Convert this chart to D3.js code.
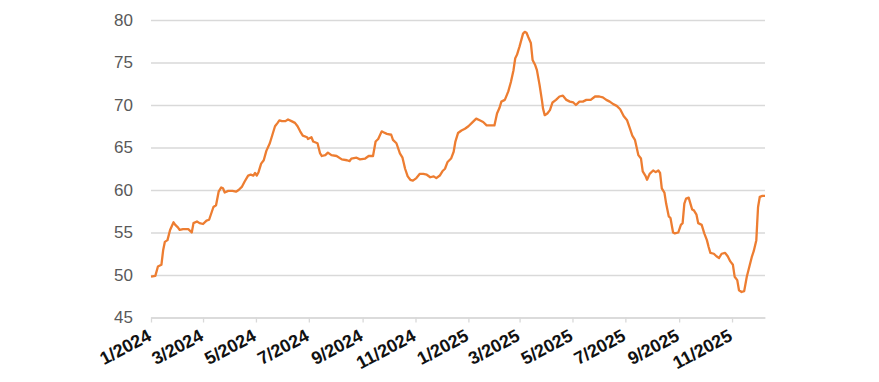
<!DOCTYPE html>
<html>
<head>
<meta charset="utf-8">
<script src="https://cdn.jsdelivr.net/npm/d3@7"></script>
<style>
  body { margin: 0; background: #fff; }
</style>
</head>
<body>
<div id="chart"></div>
<script>
const dates = [
  "2024-01-01","2024-01-06","2024-01-09","2024-01-13","2024-01-15","2024-01-17","2024-01-20","2024-01-23","2024-01-27","2024-01-29",
  "2024-02-01","2024-02-03","2024-02-07","2024-02-13","2024-02-17","2024-02-19","2024-02-23","2024-02-26",
  "2024-03-01","2024-03-05","2024-03-08","2024-03-13","2024-03-16","2024-03-19","2024-03-22","2024-03-24","2024-03-26","2024-03-30",
  "2024-04-04","2024-04-08","2024-04-11","2024-04-15","2024-04-18","2024-04-22","2024-04-25","2024-04-28","2024-04-30",
  "2024-05-02","2024-05-04","2024-05-07","2024-05-10","2024-05-13","2024-05-17","2024-05-20","2024-05-23","2024-05-26","2024-05-28","2024-05-31",
  "2024-06-04","2024-06-07","2024-06-11","2024-06-15","2024-06-18","2024-06-21","2024-06-24","2024-06-29","2024-06-30",
  "2024-07-04","2024-07-06","2024-07-11","2024-07-14","2024-07-16","2024-07-20","2024-07-23","2024-07-27",
  "2024-08-02","2024-08-08","2024-08-14","2024-08-17","2024-08-19","2024-08-25","2024-08-29",
  "2024-09-04","2024-09-08","2024-09-13","2024-09-16","2024-09-19","2024-09-23","2024-09-25","2024-09-29",
  "2024-10-04","2024-10-06","2024-10-10","2024-10-14","2024-10-17","2024-10-20","2024-10-23","2024-10-26","2024-10-29",
  "2024-11-02","2024-11-06","2024-11-10","2024-11-14","2024-11-18","2024-11-22","2024-11-25","2024-11-29",
  "2024-12-02","2024-12-05","2024-12-08","2024-12-12","2024-12-15","2024-12-17","2024-12-20","2024-12-24","2024-12-28",
  "2025-01-01","2025-01-05","2025-01-10","2025-01-14","2025-01-18","2025-01-22","2025-01-28","2025-01-31",
  "2025-02-03","2025-02-06","2025-02-08","2025-02-12","2025-02-16","2025-02-19","2025-02-22","2025-02-24","2025-02-26",
  "2025-03-01","2025-03-05","2025-03-07","2025-03-09","2025-03-11","2025-03-14","2025-03-16","2025-03-19","2025-03-21","2025-03-24","2025-03-27","2025-03-28","2025-03-30",
  "2025-04-02","2025-04-05","2025-04-08","2025-04-12","2025-04-16","2025-04-20","2025-04-24","2025-04-28",
  "2025-05-02","2025-05-05","2025-05-09","2025-05-13","2025-05-17","2025-05-22","2025-05-27",
  "2025-06-01","2025-06-05","2025-06-09","2025-06-13","2025-06-17","2025-06-21","2025-06-25","2025-06-29",
  "2025-07-03","2025-07-06","2025-07-09","2025-07-12","2025-07-16","2025-07-19","2025-07-21","2025-07-24","2025-07-26","2025-07-29",
  "2025-08-02","2025-08-05","2025-08-08","2025-08-10","2025-08-12","2025-08-15","2025-08-17","2025-08-20","2025-08-22","2025-08-25","2025-08-27","2025-08-31",
  "2025-09-03","2025-09-05","2025-09-07","2025-09-09","2025-09-12","2025-09-14","2025-09-16","2025-09-18","2025-09-21","2025-09-23","2025-09-27","2025-09-30",
  "2025-10-03","2025-10-05","2025-10-07","2025-10-11","2025-10-14","2025-10-17","2025-10-20","2025-10-24","2025-10-27","2025-10-30",
  "2025-11-02","2025-11-04","2025-11-07","2025-11-09","2025-11-12","2025-11-15","2025-11-18","2025-11-21","2025-11-24","2025-11-26","2025-11-29","2025-11-30",
  "2025-12-01","2025-12-03","2025-12-06","2025-12-09"
];

const values = [
  49.8,49.9,51.0,51.2,52.9,53.9,54.1,55.3,56.2,55.9,
  55.6,55.3,55.4,55.4,55.0,56.1,56.3,56.1,
  56.0,56.4,56.5,58.0,58.2,59.8,60.3,60.2,59.7,59.9,
  59.9,59.8,60.0,60.4,61.0,61.7,61.8,61.7,62.0,
  61.7,62.1,63.1,63.5,64.6,65.5,66.5,67.5,67.9,68.2,68.1,
  68.1,68.3,68.1,67.9,67.5,66.9,66.4,66.2,66.0,
  66.2,65.7,65.5,64.3,64.0,64.1,64.4,64.1,
  64.0,63.6,63.5,63.4,63.7,63.8,63.6,
  63.7,64.0,64.0,65.7,66.0,66.9,66.8,66.6,
  66.5,65.9,65.5,64.3,63.8,62.5,61.6,61.2,61.1,
  61.4,61.9,61.9,61.8,61.5,61.6,61.4,61.7,
  62.2,62.5,63.3,63.7,64.5,65.7,66.7,67.0,67.2,
  67.5,67.9,68.4,68.2,68.0,67.6,67.6,67.6,
  69.0,69.7,70.4,70.6,71.6,72.7,74.1,75.5,75.9,
  76.9,78.4,78.6,78.5,78.0,77.3,75.3,74.7,74.1,72.4,70.4,69.6,68.8,
  69.0,69.4,70.3,70.6,71.0,71.1,70.6,70.4,
  70.3,70.0,70.4,70.4,70.6,70.6,71.0,
  71.0,70.9,70.6,70.4,70.1,69.9,69.5,68.7,
  68.2,67.3,66.4,65.9,64.1,63.7,62.2,61.7,61.2,61.9,
  62.3,62.1,62.3,62.0,60.2,59.7,58.4,56.9,56.7,55.0,54.9,55.0,
  55.9,56.1,58.4,59.0,59.1,58.4,57.7,57.6,57.1,56.1,55.9,54.9,
  54.1,53.3,52.6,52.5,52.2,52.0,52.5,52.6,52.2,51.6,
  51.2,49.8,49.4,48.2,48.0,48.1,49.8,51.0,52.2,52.8,54.1,56.1,
  58.0,59.2,59.3,59.3
];

const yTicks = [45, 50, 55, 60, 65, 70, 75, 80];
const xTickDates = ["2024-01-01","2024-03-01","2024-05-01","2024-07-01","2024-09-01","2024-11-01",
                    "2025-01-01","2025-03-01","2025-05-01","2025-07-01","2025-09-01","2025-11-01"];
const xDomain = ["2024-01-01", "2025-12-09"];

const width = 879;
const height = 382;
const margin = { top: 20, right: 114, bottom: 64.5, left: 151 };

const parse = d3.timeParse("%Y-%m-%d");
const data = dates.map((d, i) => ({ date: parse(d), value: values[i] }));

const svg = d3.select("#chart")
  .append("svg")
  .attr("width", width)
  .attr("height", height);

const x = d3.scaleTime()
  .domain(xDomain.map(parse))
  .range([margin.left, width - margin.right]);

const y = d3.scaleLinear()
  .domain([45, 80])
  .range([height - margin.bottom, margin.top]);

// gridlines + y labels
const yAxis = g => g
  .attr("transform", `translate(${margin.left},0)`)
  .call(d3.axisLeft(y).tickValues(yTicks).tickSize(-(width - margin.left - margin.right)).tickPadding(18))
  .call(g => g.select(".domain").remove())
  .call(g => g.selectAll(".tick line").attr("stroke", "#d9d9d9").attr("stroke-width", 1.3))
  .call(g => g.selectAll(".tick text")
    .attr("fill", "#595959")
    .attr("font-family", "'Liberation Sans', Arial, sans-serif")
    .attr("font-size", "17px"));

// x axis with rotated bold labels
const xAxis = g => g
  .attr("transform", `translate(0,${height - margin.bottom})`)
  .call(d3.axisBottom(x)
    .tickValues(xTickDates.map(parse))
    .tickSize(5)
    .tickSizeOuter(0)
    .tickFormat(d3.timeFormat("%-m/%Y")))
  .call(g => g.select(".domain").attr("stroke", "#d9d9d9").attr("stroke-width", 1.3))
  .call(g => g.selectAll(".tick line").attr("stroke", "#d9d9d9").attr("stroke-width", 1.3))
  .call(g => g.selectAll(".tick text")
    .attr("fill", "#111")
    .attr("font-family", "'Liberation Sans', Arial, sans-serif")
    .attr("font-weight", "bold")
    .attr("font-size", "18px")
    .attr("text-anchor", "end")
    .attr("dy", null)
    .attr("y", null)
    .attr("transform", "translate(1,22) rotate(-28)"));

svg.append("g").call(yAxis);
svg.append("g").call(xAxis);

const line = d3.line()
  .x(d => x(d.date))
  .y(d => y(d.value));

svg.append("path")
  .datum(data)
  .attr("fill", "none")
  .attr("stroke", "#ED7D31")
  .attr("stroke-width", 2.3)
  .attr("stroke-linejoin", "round")
  .attr("d", line);
</script>
</body>
</html>
